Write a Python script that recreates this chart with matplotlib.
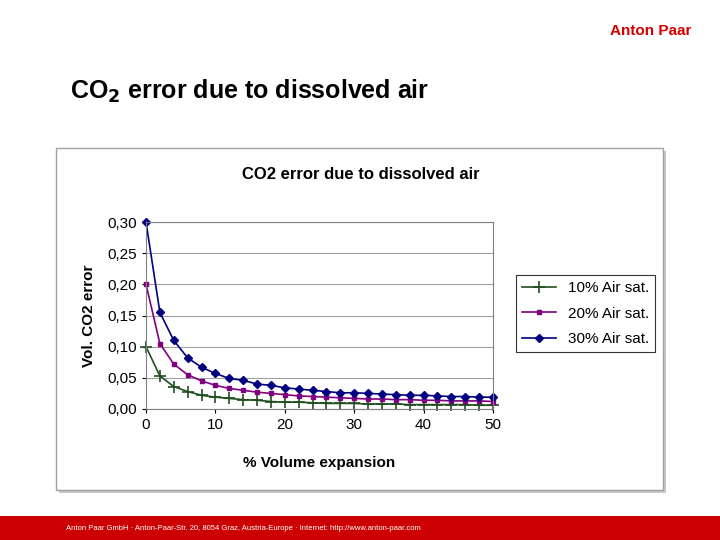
import matplotlib
matplotlib.use("agg")
import matplotlib.pyplot as plt
from matplotlib.patches import Rectangle

expansion = list(range(0, 52, 2))
air10 = [0.100, 0.053, 0.036, 0.028, 0.022, 0.019, 0.017, 0.015, 0.014, 0.012, 0.011, 0.011, 0.010,
         0.009, 0.009, 0.009, 0.008, 0.008, 0.008, 0.007, 0.007, 0.007, 0.007, 0.007, 0.006, 0.006]
air20 = [0.200, 0.105, 0.072, 0.055, 0.045, 0.038, 0.033, 0.030, 0.027, 0.025, 0.023, 0.021, 0.020,
         0.019, 0.018, 0.017, 0.016, 0.016, 0.015, 0.015, 0.014, 0.014, 0.013, 0.013, 0.013, 0.012]
air30 = [0.300, 0.155, 0.110, 0.082, 0.067, 0.057, 0.049, 0.046, 0.040, 0.038, 0.034, 0.032, 0.030,
         0.028, 0.026, 0.026, 0.025, 0.024, 0.023, 0.022, 0.022, 0.021, 0.020, 0.020, 0.019, 0.019]
yticks = [0.0, 0.05, 0.10, 0.15, 0.20, 0.25, 0.30]

plt.rcParams["font.family"] = ["Liberation Sans", "DejaVu Sans"]
fig = plt.figure(figsize=(7.2, 5.4), dpi=100)
W, H = 720, 540

def px(x, y):
    return x / W, 1 - y / H

# chart box with shadow
fig.patches.append(Rectangle(px(59, 493), 607 / W, 342 / H, transform=fig.transFigure,
                             facecolor="#c8c8c8", edgecolor="none", zorder=-2))
fig.patches.append(Rectangle(px(56, 490), 607 / W, 342 / H, transform=fig.transFigure,
                             facecolor="white", edgecolor="#a0a0a0", lw=1, zorder=-1))

# footer bar
fig.patches.append(Rectangle((0, 0), 1, 24 / H, transform=fig.transFigure,
                             facecolor="#cc0000", edgecolor="none"))
fig.text(66 / W, 12 / H, "Anton Paar GmbH · Anton-Paar-Str. 20, 8054 Graz, Austria-Europe · Internet: http://www.anton-paar.com",
         color="white", fontsize=5.5, va="center")

# slide title and logo
fig.text(70 / W, 1 - 91 / H, r"CO$_\mathbf{2}$ error due to dissolved air", fontsize=18,
         fontweight="bold", va="center")
fig.text(610 / W, 1 - 31 / H, "Anton Paar", fontsize=11, fontweight="bold", color="#d40000", va="center")

ax = fig.add_axes([146 / W, 1 - 409 / H, 347 / W, 187 / H])
ax.set_zorder(5)
ax.plot(expansion, air10, color="#1f4e1f", marker="+", ms=8, mew=1.2, lw=1.2, label="10% Air sat.", clip_on=False)
ax.plot(expansion, air20, color="#800080", marker="s", ms=3.5, lw=1.2, label="20% Air sat.", clip_on=False)
ax.plot(expansion, air30, color="#000080", marker="D", ms=4.5, lw=1.2, label="30% Air sat.", clip_on=False)
ax.set_xlim(0, 50)
ax.set_ylim(0, 0.30)
ax.set_xticks(range(0, 51, 10))
ax.set_yticks(yticks)
ax.set_yticklabels([f"{v:.2f}".replace(".", ",") for v in yticks])
ax.grid(axis="y", color="#a0a0a0", lw=0.8)
ax.set_axisbelow(True)
for s in ax.spines.values():
    s.set_color("#808080")
ax.tick_params(labelsize=11, length=3)
ax.set_xlabel("% Volume expansion", fontsize=11, fontweight="bold", labelpad=17)
ax.set_ylabel("Vol. CO2 error", fontsize=11, fontweight="bold", labelpad=8)
ax.set_title("CO2 error due to dissolved air", fontsize=12, fontweight="bold", pad=31, x=0.62)
leg = fig.legend(loc="upper left", bbox_to_anchor=(516 / W, 1 - 275 / H), fontsize=11,
                 frameon=True, fancybox=False, edgecolor="black", handlelength=2.2,
                 borderaxespad=0, labelspacing=0.75)
leg.get_frame().set_linewidth(0.8)

fig.savefig("out.png", dpi=100)
